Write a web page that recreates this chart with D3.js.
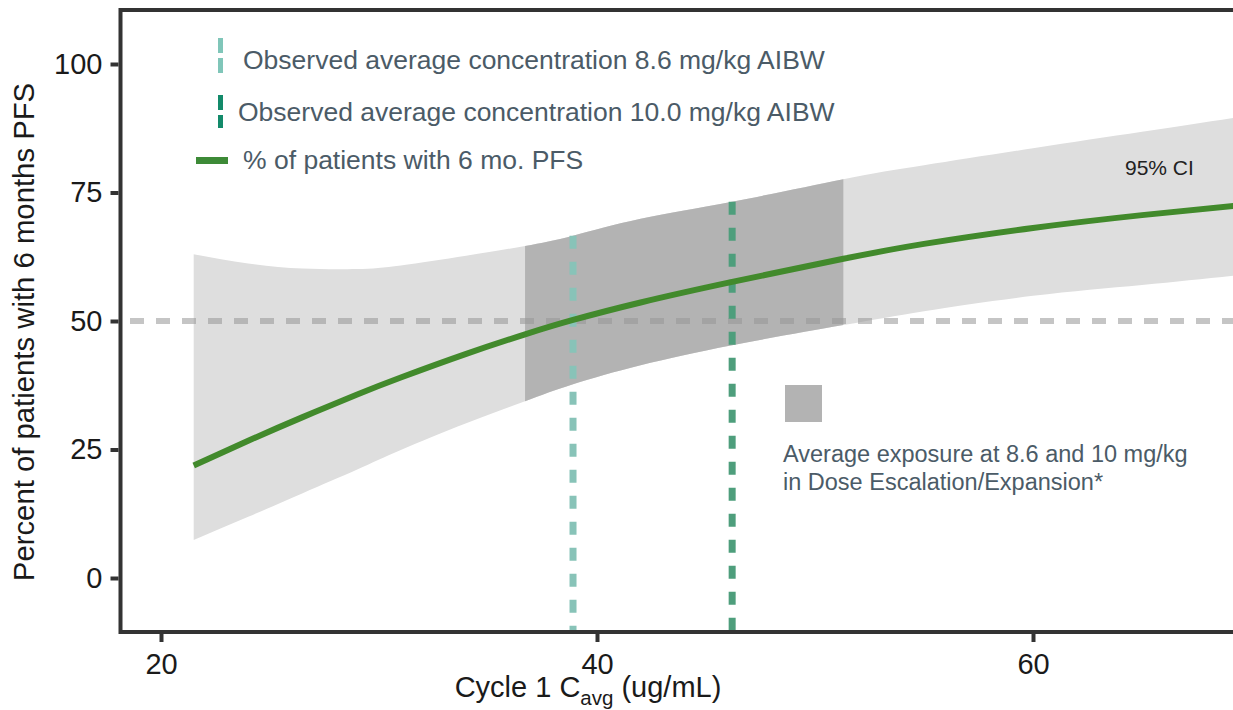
<!DOCTYPE html>
<html>
<head>
<meta charset="utf-8">
<script src="https://cdn.jsdelivr.net/npm/d3@7"></script>
<style>
  html, body { margin: 0; padding: 0; background: #fff; }
  svg { display: block; font-family: "Liberation Sans", Arial, sans-serif; }
</style>
</head>
<body>
<svg id="chart" width="1233" height="710"></svg>
<script>
// ---- data ----
const concX   = [21.5, 24, 26.5, 29, 31, 34, 36.7, 38.9, 42, 46.2, 51.3, 55, 60, 65, 69.2];
const pfsPct  = [21.9, 26.7, 31.3, 35.7, 39.0, 43.6, 47.4, 50.2, 53.6, 57.6, 62.1, 65.0, 68.1, 70.6, 72.4];
const ciUpper = [63.0, 61.2, 60.2, 60.1, 60.8, 62.7, 64.6, 66.6, 69.9, 73.2, 77.6, 80.3, 83.6, 86.8, 89.5];
const ciLower = [7.4, 11.9, 16.5, 21.1, 24.9, 30.1, 34.4, 37.7, 41.4, 45.3, 49.2, 51.9, 54.9, 57.0, 58.8];
const exposureRange = [36.7, 51.3];
const observed = [
  { label: "Observed average concentration 8.6 mg/kg AIBW", conc: 38.9 },
  { label: "Observed average concentration 10.0 mg/kg AIBW", conc: 46.2 }
];
const refPct = 50;
const xTicks = [20, 40, 60];
const yTicks = [0, 25, 50, 75, 100];
const lineLabel = "% of patients with 6 mo. PFS";
const ciLabel = "95% CI";
const exposureLabel = ["Average exposure at 8.6 and 10 mg/kg", "in Dose Escalation/Expansion*"];
const yTitle = "Percent of patients with 6 months PFS";

// ---- setup ----
const svg = d3.select("#chart");
const x = d3.scaleLinear().domain([20, 60]).range([161, 1033]);
const y = d3.scaleLinear().domain([0, 100]).range([578, 64]);
const plotL = 120.5, plotT = 10, plotB = 632, plotR = 1240;

const rows = concX.map((c, i) => ({ c, p: pfsPct[i], lo: ciLower[i], hi: ciUpper[i] }));

const defs = svg.append("defs");
defs.append("clipPath").attr("id", "plotClip")
  .append("rect").attr("x", plotL).attr("y", plotT).attr("width", plotR - plotL).attr("height", plotB - plotT);
defs.append("clipPath").attr("id", "expClip")
  .append("rect").attr("x", x(exposureRange[0])).attr("y", plotT)
  .attr("width", x(exposureRange[1]) - x(exposureRange[0])).attr("height", plotB - plotT);

const plot = svg.append("g").attr("clip-path", "url(#plotClip)");

const area = d3.area().curve(d3.curveNatural)
  .x(d => x(d.c)).y0(d => y(d.lo)).y1(d => y(d.hi));

plot.append("path").datum(rows).attr("d", area).attr("fill", "#dedede");
plot.append("g").attr("clip-path", "url(#expClip)")
  .append("path").datum(rows).attr("d", area).attr("fill", "#b3b3b3");

// reference dashed line at 50%
plot.append("line")
  .attr("x1", 130).attr("x2", plotR)
  .attr("y1", y(refPct)).attr("y2", y(refPct))
  .attr("stroke", "rgba(150,150,150,0.55)").attr("stroke-width", 6)
  .attr("stroke-dasharray", "14,12");

// upper CI interpolation for vertical lines
const hiInterp = c => {
  const i = d3.bisectLeft(concX, c);
  const t = (c - concX[i - 1]) / (concX[i] - concX[i - 1]);
  return ciUpper[i - 1] + t * (ciUpper[i] - ciUpper[i - 1]);
};
const obsColors = ["#88c3b8", "#4e9e7c"];
observed.forEach((o, i) => {
  plot.append("line")
    .attr("x1", x(o.conc)).attr("x2", x(o.conc))
    .attr("y1", y(hiInterp(o.conc))).attr("y2", plotB)
    .attr("stroke", obsColors[i]).attr("stroke-width", 7)
    .attr("stroke-dasharray", "13,13");
});

// model line
plot.append("path").datum(rows)
  .attr("d", d3.line().curve(d3.curveNatural).x(d => x(d.c)).y(d => y(d.p)))
  .attr("fill", "none").attr("stroke", "#428a2c").attr("stroke-width", 6);

// ---- frame ----
svg.append("rect").attr("x", plotL).attr("y", plotT)
  .attr("width", plotR - plotL).attr("height", plotB - plotT)
  .attr("fill", "none").attr("stroke", "#333").attr("stroke-width", 4);

// ---- axes ----
const xAxis = svg.append("g").attr("transform", `translate(0,${plotB + 2})`)
  .call(d3.axisBottom(x).tickValues(xTicks).tickSize(8).tickPadding(11).tickFormat(d3.format("d")));
const yAxis = svg.append("g").attr("transform", `translate(${plotL - 2},0)`)
  .call(d3.axisLeft(y).tickValues(yTicks).tickSize(8).tickPadding(8).tickFormat(d3.format("d")));
[xAxis, yAxis].forEach(a => {
  a.select(".domain").remove();
  a.selectAll(".tick line").attr("stroke", "#333").attr("stroke-width", 4);
  a.selectAll(".tick text").attr("fill", "#1a1a1a").attr("font-size", 29)
    .attr("font-family", "Liberation Sans, Arial, sans-serif");
});

// axis titles
const xt = svg.append("text").attr("x", 588).attr("y", 697)
  .attr("text-anchor", "middle").attr("font-size", 29).attr("fill", "#1a1a1a");
xt.append("tspan").text("Cycle 1 C");
xt.append("tspan").text("avg").attr("font-size", 20.5).attr("dy", 8);
xt.append("tspan").text(" (ug/mL)").attr("dy", -8);

svg.append("text").attr("transform", `translate(34,${332}) rotate(-90)`)
  .attr("text-anchor", "middle").attr("font-size", 29.3).attr("fill", "#1a1a1a")
  .text(yTitle);

// ---- legend ----
const legColor = "#4b5b67";
const legDash = ["#80c6b9", "#138a6a"];
const legY = [[38, 74], [95, 128]];
observed.forEach((o, i) => {
  svg.append("line").attr("x1", 220.5).attr("x2", 220.5)
    .attr("y1", legY[i][0]).attr("y2", legY[i][1])
    .attr("stroke", legDash[i]).attr("stroke-width", 5)
    .attr("stroke-dasharray", "15,5");
});
svg.append("text").attr("x", 243).attr("y", 69).attr("font-size", 26.5).attr("fill", legColor).text(observed[0].label);
svg.append("text").attr("x", 238).attr("y", 121).attr("font-size", 26.5).attr("fill", legColor).text(observed[1].label);
svg.append("line").attr("x1", 196).attr("x2", 228).attr("y1", 160.5).attr("y2", 160.5)
  .attr("stroke", "#3d8a37").attr("stroke-width", 7);
svg.append("text").attr("x", 243).attr("y", 169).attr("font-size", 26.5).attr("fill", legColor).text(lineLabel);

// CI label
svg.append("text").attr("x", 1125).attr("y", 175).attr("font-size", 21).attr("fill", "#222").text(ciLabel);

// exposure legend
svg.append("rect").attr("x", 785).attr("y", 385).attr("width", 37).attr("height", 37).attr("fill", "#b3b3b3");
exposureLabel.forEach((t, i) => {
  svg.append("text").attr("x", 783).attr("y", 462 + i * 28).attr("font-size", 23.5).attr("fill", legColor).text(t);
});
</script>
</body>
</html>
